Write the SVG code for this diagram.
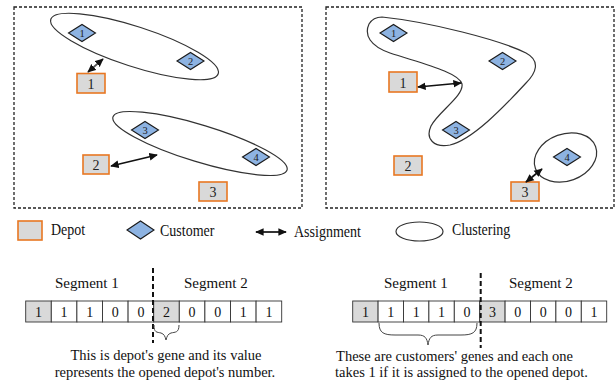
<svg xmlns="http://www.w3.org/2000/svg" width="616" height="383" viewBox="0 0 616 383">
<style>
.frame{fill:none;stroke:#222;stroke-width:1.3;stroke-dasharray:3,2}
.depot rect{fill:#d9d9d9;stroke:#e87722;stroke-width:1.6}
.depot text{font-family:"Liberation Serif",serif;font-size:14px;fill:#222;text-anchor:middle}
.cust polygon{fill:#8db3e2;stroke:#1a1a1a;stroke-width:1.1}
.cust text{font-family:"Liberation Serif",serif;font-size:10.5px;fill:#222;text-anchor:middle}
.clus{fill:none;stroke:#333;stroke-width:1.2}
.conn line{stroke:#111;stroke-width:1.7;marker-start:url(#ah);marker-end:url(#ah)}
.lbl{font-family:"Liberation Serif",serif;font-size:14px;fill:#111}
.seg{font-family:"Liberation Serif",serif;font-size:15px;fill:#111}
.cell rect{stroke:#333;stroke-width:0.9;fill:#fff}
.cell rect.g{fill:#d9d9d9}
.cell text{font-family:"Liberation Serif",serif;font-size:14px;fill:#111;text-anchor:middle}
.cut{stroke:#111;stroke-width:2;stroke-dasharray:5,3}
.brace{fill:none;stroke:#444;stroke-width:1}
.note{font-family:"Liberation Serif",serif;font-size:14.5px;fill:#111;text-anchor:middle}
</style>
<defs>
<marker id="ah" viewBox="0 0 10 10" refX="9" refY="5" markerWidth="5" markerHeight="5" orient="auto-start-reverse" markerUnits="strokeWidth">
<path d="M0,0.5 L10,5 L0,9.5 z" fill="#111"/>
</marker>
</defs>
<rect width="616" height="383" fill="#fff"/>

<!-- Left panel -->
<rect class="frame" x="14" y="7" width="288" height="201"/>
<g id="L-cluster1"><ellipse class="clus" cx="134.5" cy="46.5" rx="88" ry="20" transform="rotate(18 134.5 46.5)"/></g>
<g id="L-cluster2"><ellipse class="clus" cx="200" cy="143.5" rx="91" ry="18.5" transform="rotate(17 200 143.5)"/></g>
<g id="L-c1" class="cust" transform="translate(82,33)"><polygon points="-13.5,0 0,-8.5 13.5,0 0,8.5"/><text y="3.5">1</text></g>
<g id="L-c2" class="cust" transform="translate(190.5,61)"><polygon points="-13.5,0 0,-8.5 13.5,0 0,8.5"/><text y="3.5">2</text></g>
<g id="L-c3" class="cust" transform="translate(145,130)"><polygon points="-13.5,0 0,-8.5 13.5,0 0,8.5"/><text y="3.5">3</text></g>
<g id="L-c4" class="cust" transform="translate(256,157)"><polygon points="-13.5,0 0,-8.5 13.5,0 0,8.5"/><text y="3.5">4</text></g>
<g id="L-d1" class="depot"><rect x="77" y="73.5" width="28" height="19.5"/><text x="91" y="88.5">1</text></g>
<g id="L-d2" class="depot"><rect x="83" y="155" width="26" height="19"/><text x="96" y="170">2</text></g>
<g id="L-d3" class="depot"><rect x="199" y="182" width="28" height="19"/><text x="213" y="197">3</text></g>

<!-- Right panel -->
<rect class="frame" x="326" y="7" width="288" height="201"/>
<g id="R-cluster1"><path class="clus" d="M382,17 C430,22 500,40 526,53 C541,61 536,73 526,83 C503,108 472,140 450,145 C434,148 425,139 431,126 C438,112 464,96 462,84 C459,72 420,63 390,53 C370,46 364,35 369,24 C372,19 376,17 382,17 Z"/></g>
<g id="R-cluster2"><ellipse class="clus" cx="565.5" cy="157.5" rx="32" ry="23.5" transform="rotate(-20 565.5 157.5)"/></g>
<g id="R-c1" class="cust" transform="translate(393.5,33)"><polygon points="-13.5,0 0,-8.5 13.5,0 0,8.5"/><text y="3.5">1</text></g>
<g id="R-c2" class="cust" transform="translate(502.5,61)"><polygon points="-13.5,0 0,-8.5 13.5,0 0,8.5"/><text y="3.5">2</text></g>
<g id="R-c3" class="cust" transform="translate(456,130)"><polygon points="-13.5,0 0,-8.5 13.5,0 0,8.5"/><text y="3.5">3</text></g>
<g id="R-c4" class="cust" transform="translate(567,157)"><polygon points="-13.5,0 0,-8.5 13.5,0 0,8.5"/><text y="3.5">4</text></g>
<g id="R-d1" class="depot"><rect x="389" y="72" width="28" height="20"/><text x="403" y="87.5">1</text></g>
<g id="R-d2" class="depot"><rect x="394" y="156" width="28" height="19"/><text x="408" y="171">2</text></g>
<g id="R-d3" class="depot"><rect x="511" y="182" width="28" height="19"/><text x="525" y="197">3</text></g>

<!-- Connectors -->
<g id="connectors" class="conn">
<line x1="88" y1="72" x2="103" y2="59" style="stroke:#555"/>
<line x1="111" y1="166" x2="157" y2="155"/>
<line x1="418" y1="87" x2="461" y2="83"/>
<line x1="526" y1="182" x2="542" y2="169"/>
</g>

<!-- Legend -->
<g id="legend">
<g id="leg-depot" class="depot"><rect x="18" y="221" width="24" height="19"/></g>
<text class="lbl" transform="translate(51,235) scale(1,1.22)">Depot</text>
<g id="leg-cust" class="cust" transform="translate(140.5,230)"><polygon points="-13.5,0 0,-9 13.5,0 0,9"/></g>
<text class="lbl" transform="translate(160,236) scale(1,1.22)">Customer</text>
<g class="conn"><line x1="256" y1="232" x2="286" y2="232"/></g>
<text class="lbl" transform="translate(294,236.5) scale(1,1.22)">Assignment</text>
<ellipse class="clus" cx="419.5" cy="231.5" rx="23.5" ry="9.5"/>
<text class="lbl" transform="translate(452,235) scale(1,1.22)">Clustering</text>
</g>

<!-- Chromosome left -->
<g id="chrom-left">
<text class="seg" x="55" y="288">Segment 1</text>
<text class="seg" x="184" y="288">Segment 2</text>
<g class="cell">
<rect class="g" x="25.7" y="301" width="25.6" height="21"/><text x="38.5" y="316.5">1</text>
<rect x="51.3" y="301" width="25.6" height="21"/><text x="64.1" y="316.5">1</text>
<rect x="76.9" y="301" width="25.6" height="21"/><text x="89.7" y="316.5">1</text>
<rect x="102.5" y="301" width="25.6" height="21"/><text x="115.3" y="316.5">0</text>
<rect x="128.1" y="301" width="25.6" height="21"/><text x="140.9" y="316.5">0</text>
<rect class="g" x="153.7" y="301" width="25.6" height="21"/><text x="166.5" y="316.5">2</text>
<rect x="179.3" y="301" width="25.6" height="21"/><text x="192.1" y="316.5">0</text>
<rect x="204.9" y="301" width="25.6" height="21"/><text x="217.7" y="316.5">0</text>
<rect x="230.5" y="301" width="25.6" height="21"/><text x="243.3" y="316.5">1</text>
<rect x="256.1" y="301" width="25.6" height="21"/><text x="268.9" y="316.5">1</text>
</g>
<line class="cut" x1="153" y1="268" x2="153" y2="343"/>
<path class="brace" d="M154,325 C154,333 157,332 161,333 C164,334 165,336 166,340 C167,336 168,334 171,333 C175,332 179,333 179,325"/>
<text class="note" x="166" y="360">This is depot's gene and its value</text>
<text class="note" x="165" y="377">represents the opened depot's number.</text>
</g>

<!-- Chromosome right -->
<g id="chrom-right">
<text class="seg" x="384" y="288">Segment 1</text>
<text class="seg" x="509" y="288">Segment 2</text>
<g class="cell">
<rect class="g" x="352.7" y="301" width="25.4" height="21"/><text x="365.4" y="316.5">1</text>
<rect x="378.1" y="301" width="25.4" height="21"/><text x="390.8" y="316.5">1</text>
<rect x="403.5" y="301" width="25.4" height="21"/><text x="416.2" y="316.5">1</text>
<rect x="428.9" y="301" width="25.4" height="21"/><text x="441.6" y="316.5">1</text>
<rect x="454.3" y="301" width="25.4" height="21"/><text x="467" y="316.5">0</text>
<rect class="g" x="479.7" y="301" width="25.4" height="21"/><text x="492.4" y="316.5">3</text>
<rect x="505.1" y="301" width="25.4" height="21"/><text x="517.8" y="316.5">0</text>
<rect x="530.5" y="301" width="25.4" height="21"/><text x="543.2" y="316.5">0</text>
<rect x="555.9" y="301" width="25.4" height="21"/><text x="568.6" y="316.5">0</text>
<rect x="581.3" y="301" width="25.4" height="21"/><text x="594" y="316.5">1</text>
</g>
<line class="cut" x1="480.7" y1="273" x2="480.7" y2="348"/>
<path class="brace" d="M379,323 C379,333 384,335 395,335 L418,335 C425,335 427,338 428,345 C429,338 431,335 438,335 L461,335 C472,335 477,333 477,323"/>
<text class="note" x="454.5" y="361">These are customers' genes and each one</text>
<text class="note" x="461.5" y="377">takes 1 if it is assigned to the opened depot.</text>
</g>
</svg>
